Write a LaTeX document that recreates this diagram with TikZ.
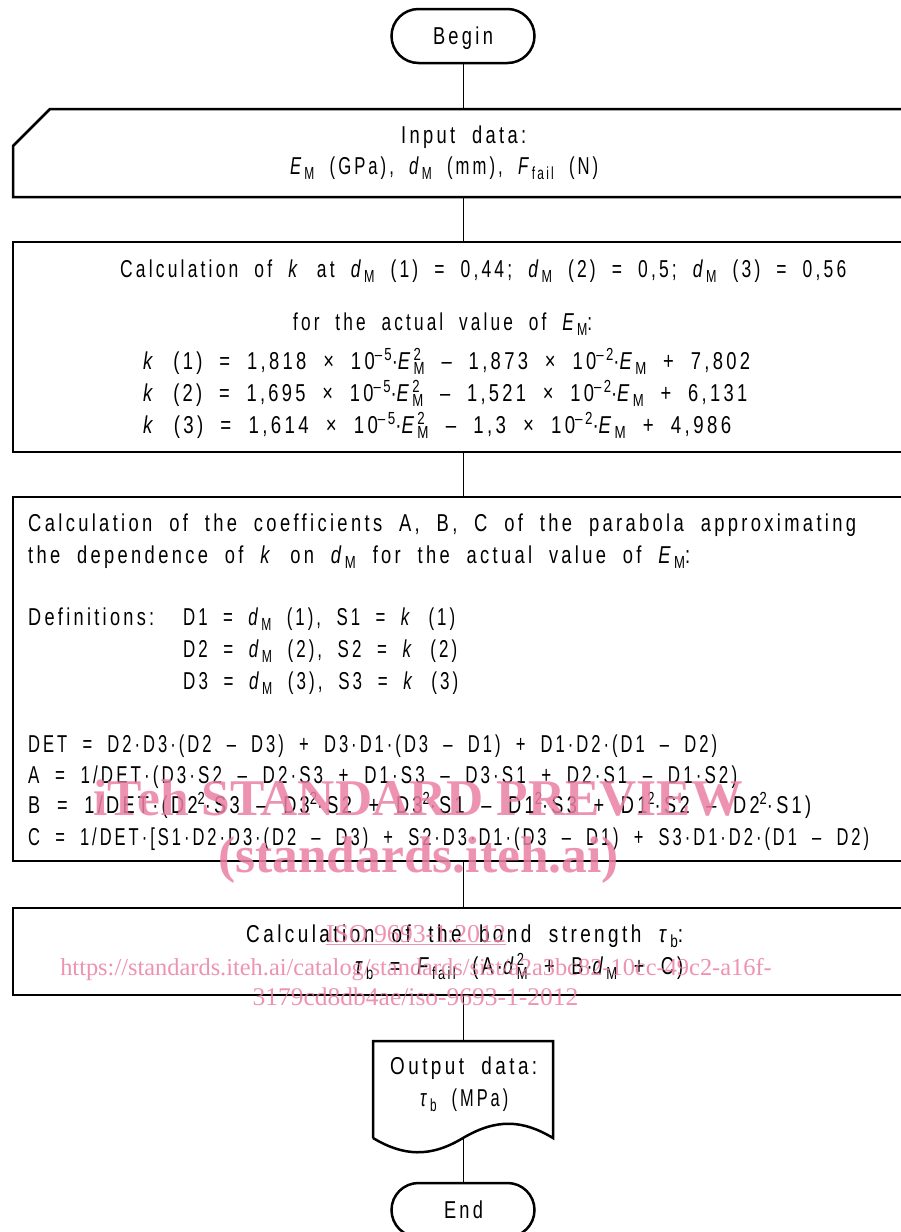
\documentclass[tikz,border=0pt]{standalone}
\usepackage{graphicx}
\usepackage{fontspec}
\setmainfont{Liberation Sans}[FakeStretch=0.66, LetterSpace=12, WordSpace=2.0]
\newfontfamily\wmfont{Liberation Serif}
\definecolor{wmpink}{RGB}{236,128,164}
\newcommand{\sbs}[1]{\raisebox{-5.5pt}{\fontsize{17.5}{17}\selectfont #1}}
\newcommand{\sps}[1]{\raisebox{9pt}{\fontsize{17.5}{17}\selectfont #1}}
\newcommand{\EM}{\textit{E}\sbs{M}}
\newcommand{\EMsq}{\textit{E}\rlap{\sps{2}}\sbs{M}}
\newcommand{\dM}{\textit{d}\sbs{M}}
\newcommand{\dMsq}{\textit{d}\rlap{\sps{2}}\sbs{M}}
\newcommand{\tb}{\textit{τ}\sbs{b}}
\newcommand{\Ff}{\textit{F}\sbs{fail}}
\newcommand{\fitw}[2]{\resizebox{#1pt}{\height}{#2}}
\tikzset{
  box/.style={draw, line width=2.5pt, inner sep=0pt},
  term/.style={draw, line width=2.5pt, rounded corners=27pt, minimum width=143pt, minimum height=54pt, inner sep=0pt},
  conn/.style={line width=1pt},
  txt/.style={inner sep=0pt, anchor=base west, font=\fontsize{24.4}{28}\selectfont},
  ctxt/.style={inner sep=0pt, anchor=base, font=\fontsize{24.4}{28}\selectfont},
  wmbig/.style={inner sep=0pt, anchor=base west, text=wmpink, text opacity=0.85, font=\wmfont\bfseries\fontsize{51.5}{55}\selectfont},
  wmsmall/.style={inner sep=0pt, anchor=base, text=wmpink, text opacity=0.85, font=\wmfont\fontsize{24.4}{28}\selectfont},
}
\begin{document}
\begin{tikzpicture}[x=1pt, y=-1pt]
\useasboundingbox (0,0) rectangle (901,1232);
\fill[white] (0,0) rectangle (901,1232);
% terminals
\node[term] (begin) at (463,36) {};
\node[ctxt] (tb) at (463,44) {\fitw{60}{Begin}};
\node[term] (end) at (463,1210) {};
\node[ctxt] (te) at (463.5,1218) {\fitw{39}{End}};
% input box
\node[inner sep=0pt, minimum width=897pt, minimum height=88pt] (inp) at (461.5,153) {};
\draw[line width=2.5pt] (910,109) -- (50,109) -- (13,146) -- (13,197) -- (910,197);
% calc boxes
\node[box, minimum width=897pt, minimum height=210pt] (calk) at (461.5,347) {};
\node[box, minimum width=897pt, minimum height=364pt] (calc) at (461.5,679) {};
\node[box, minimum width=897pt, minimum height=87pt] (bond) at (461.5,951.5) {};
% output document
\node[inner sep=0pt, minimum width=180pt, minimum height=97pt] (out) at (463,1089.5) {};
\draw[line width=2.5pt] (373,1138) -- (373,1041) -- (553,1041) -- (553,1138)
  .. controls (523,1120) and (497,1118) .. (463,1138)
  .. controls (430,1158) and (403,1156) .. (373,1138);
% connectors
\draw[conn] (begin.south) -- (begin.south |- inp.north);
\draw[conn] (begin.south |- inp.south) -- (begin.south |- calk.north);
\draw[conn] (begin.south |- calk.south) -- (begin.south |- calc.north);
\draw[conn] (begin.south |- calc.south) -- (begin.south |- bond.north);
\draw[conn] (begin.south |- bond.south) -- (out.north);
\draw[conn] (out.south) -- (end.north);
% texts: input
\node[txt] (t1) at (401,143) {\fitw{125}{Input data:}};
\node[txt] (t2) at (290,174) {\fitw{308}{\EM{} (GPa), \dM{} (mm), \Ff{} (N)}};
% box k
\node[txt] (t3) at (120,277) {\fitw{726}{Calculation of \textit{k} at \dM{} (1) = 0,44; \dM{} (2) = 0,5; \dM{} (3) = 0,56}};
\node[txt] (t4) at (293,330) {\fitw{299}{for the actual value of \EM:}};
\node[txt] (t5) at (143,369) {\fitw{607}{\textit{k} (1) = 1,818 × 10\sps{–5}·\EMsq{} – 1,873 × 10\sps{–2}·\EM{} + 7,802}};
\node[txt] (t6) at (143,401) {\fitw{604}{\textit{k} (2) = 1,695 × 10\sps{–5}·\EMsq{} – 1,521 × 10\sps{–2}·\EM{} + 6,131}};
\node[txt] (t7) at (143,433) {\fitw{588}{\textit{k} (3) = 1,614 × 10\sps{–5}·\EMsq{} – 1,3 × 10\sps{–2}·\EM{} + 4,986}};
% box coefficients
\node[txt] (t8) at (28,531) {\fitw{828}{Calculation of the coefficients A, B, C of the parabola approximating}};
\node[txt] (t9) at (28,563) {\fitw{662}{the dependence of \textit{k} on \dM{} for the actual value of \EM:}};
\node[txt] (t10) at (28,625) {\fitw{126}{Definitions:}};
\node[txt] (t11) at (183,625) {\fitw{272}{D1 = \dM{} (1), S1 = \textit{k} (1)}};
\node[txt] (t12) at (183,657) {\fitw{274}{D2 = \dM{} (2), S2 = \textit{k} (2)}};
\node[txt] (t13) at (183,689) {\fitw{275}{D3 = \dM{} (3), S3 = \textit{k} (3)}};
\node[txt] (t14) at (28,752) {\fitw{689}{DET = D2·D3·(D2 – D3) + D3·D1·(D3 – D1) + D1·D2·(D1 – D2)}};
\node[txt] (t15) at (28,783) {\fitw{709}{A = 1/DET·(D3·S2 – D2·S3 + D1·S3 – D3·S1 + D2·S1 – D1·S2)}};
\node[txt] (t16) at (28,813) {\fitw{783}{B = 1/DET·(D2\sps{2}·S3 – D3\sps{2}·S2 + D3\sps{2}·S1 – D1\sps{2}·S3 + D1\sps{2}·S2 – D2\sps{2}·S1)}};
\node[txt] (t17) at (28,845) {\fitw{841}{C = 1/DET·[S1·D2·D3·(D2 – D3) + S2·D3·D1·(D3 – D1) + S3·D1·D2·(D1 – D2)}};
% box bond
\node[txt] (t18) at (246,942) {\fitw{437}{Calculation of the bond strength \tb:}};
\node[txt] (t19) at (355,974) {\fitw{328}{\tb{} = \Ff{} (A·\dMsq{} + B·\dM{} + C)}};
% output
\node[txt] (t20) at (390,1074) {\fitw{147}{Output data:}};
\node[txt] (t21) at (420,1106) {\fitw{88}{\tb{} (MPa)}};
% watermark
\node[wmbig] (w1) at (93,815) {iTeh STANDARD PREVIEW};
\node[wmbig] (w2) at (218,872) {(standards.iteh.ai)};
\node[wmsmall, font=\wmfont\fontsize{25.8}{28}\selectfont] (w3) at (416,942) {\underline{ISO 9693-1:2012}};
\node[wmsmall] (w4) at (416,975) {https://standards.iteh.ai/catalog/standards/sist/a2a3bc82-10cc-49c2-a16f-};
\node[wmsmall, font=\wmfont\fontsize{25.5}{28}\selectfont] (w5) at (415.5,1005) {3179cd8db4ae/iso-9693-1-2012};
\end{tikzpicture}
\end{document}
